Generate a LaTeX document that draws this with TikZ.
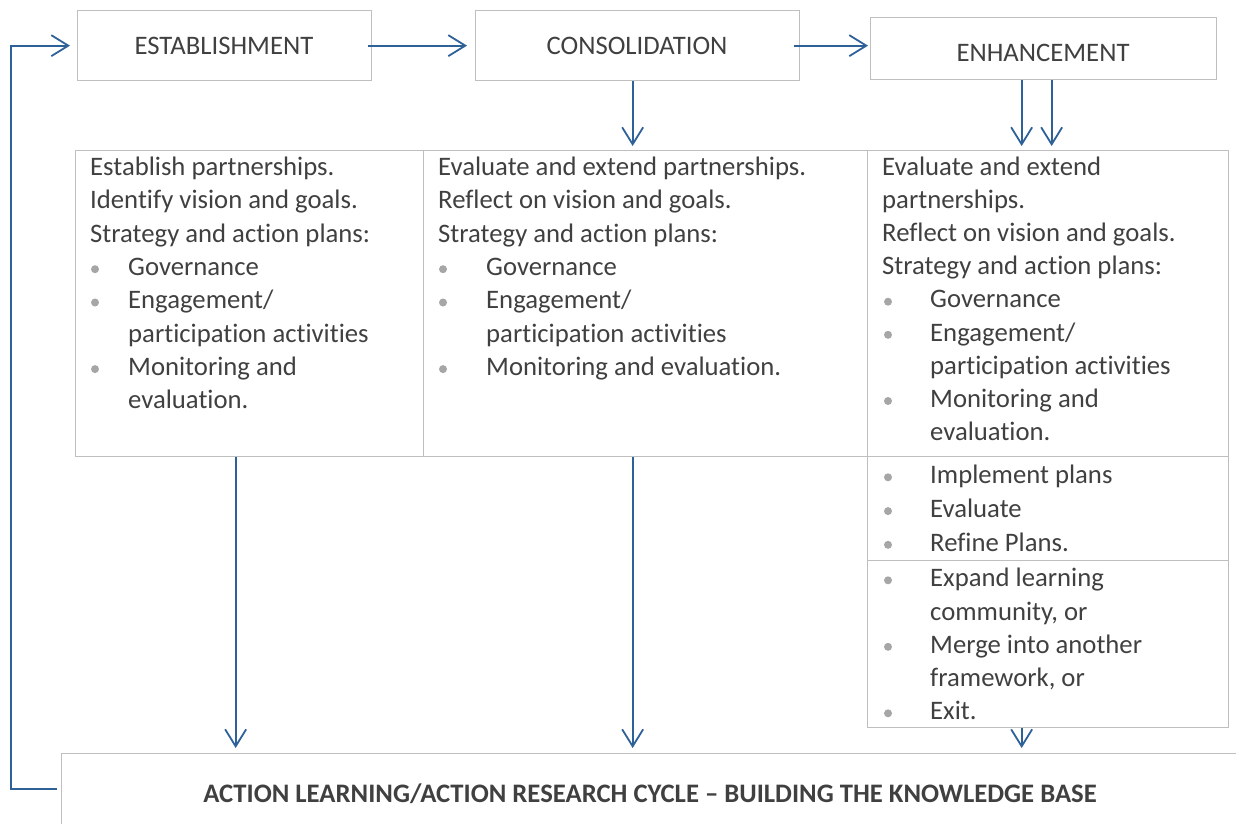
\documentclass[tikz,border=0pt]{standalone}
\usepackage{fontspec}
\setmainfont[Ligatures={NoCommon}]{Carlito}
\usetikzlibrary{arrows.meta}
\definecolor{txt}{HTML}{404040}
\definecolor{brd}{HTML}{BFBFBF}
\definecolor{arw}{HTML}{2F6199}
\definecolor{bul}{HTML}{A6A6A6}
\begin{document}
\begin{tikzpicture}[x=1pt,y=-1pt,
  box/.style={draw=brd, line width=1.3pt, inner sep=0pt, anchor=north west},
  arr/.style={draw=arw, line width=1.8pt, -{Straight Barb[length=17pt,width=21pt]}},
  tl/.style={anchor=base west, inner sep=0pt, text=txt, font=\fontsize{26.7}{33}\selectfont},
  toptxt/.style={anchor=base, inner sep=0pt, text=txt, font=\fontsize{26.7}{33}\selectfont},
  bt/.style={anchor=base, inner sep=0pt, text=txt, font=\bfseries\fontsize{26.7}{32}\selectfont},
  bu/.style={fill=bul}]
\useasboundingbox (0,0) rectangle (1236,823);
\clip (0,0) rectangle (1236,823);
% top boxes
\node[box, minimum width=294pt, minimum height=70pt] (est) at (77,10) {};
\node[box, minimum width=324pt, minimum height=70pt] (con) at (475,10) {};
\node[box, minimum width=346pt, minimum height=62pt] (enh) at (870,17) {};
\node[toptxt] (estt) at (224,54) {ESTABLISHMENT};
\node[toptxt] (cont) at (637,54) {CONSOLIDATION};
\node[toptxt] (enht) at (1043,61) {ENHANCEMENT};
% table cells
\node[box, minimum width=348pt, minimum height=306pt] (c1) at (75,150) {};
\node[box, minimum width=444pt, minimum height=306pt] (c2) at (423,150) {};
\node[box, minimum width=361pt, minimum height=306pt] (c3) at (867,150) {};
\node[box, minimum width=361pt, minimum height=104pt] (c4) at (867,456) {};
\node[box, minimum width=361pt, minimum height=167pt] (c5) at (867,560) {};
% bottom box
\node[box, minimum width=1250pt, minimum height=120pt] (bot) at (61,753) {};
\node[bt] (bottxt) at (650,802) {ACTION LEARNING/ACTION RESEARCH CYCLE – BUILDING THE KNOWLEDGE BASE};
% column 1
\node[tl] (a1) at (90,175.5) {Establish partnerships.};
\node[tl] (a2) at (90,208.8) {Identify vision and goals.};
\node[tl] (a3) at (90,242.1) {Strategy and action plans:};
\node[tl] (a4) at (128,275.4) {Governance};
\node[tl] (a5) at (128,308.7) {Engagement/};
\node[tl] (a6) at (128,342) {participation activities};
\node[tl] (a7) at (128,375.3) {Monitoring and};
\node[tl] (a8) at (128,408.6) {evaluation.};
\fill[bu] (95,269.2) circle (4);
\fill[bu] (95,302.5) circle (4);
\fill[bu] (95,369.1) circle (4);
% column 2
\node[tl] (b1) at (438,175.5) {Evaluate and extend partnerships.};
\node[tl] (b2) at (438,208.8) {Reflect on vision and goals.};
\node[tl] (b3) at (438,242.1) {Strategy and action plans:};
\node[tl] (b4) at (486,275.4) {Governance};
\node[tl] (b5) at (486,308.7) {Engagement/};
\node[tl] (b6) at (486,342) {participation activities};
\node[tl] (b7) at (486,375.3) {Monitoring and evaluation.};
\fill[bu] (443,269.2) circle (4);
\fill[bu] (443,302.5) circle (4);
\fill[bu] (443,369.1) circle (4);
% column 3
\node[tl] (d1) at (882,175.5) {Evaluate and extend};
\node[tl] (d2) at (882,208.6) {partnerships.};
\node[tl] (d3) at (882,241.7) {Reflect on vision and goals.};
\node[tl] (d4) at (882,274.8) {Strategy and action plans:};
\node[tl] (d5) at (930,307.9) {Governance};
\node[tl] (d6) at (930,341) {Engagement/};
\node[tl] (d7) at (930,374.1) {participation activities};
\node[tl] (d8) at (930,407.2) {Monitoring and};
\node[tl] (d9) at (930,440.3) {evaluation.};
\fill[bu] (888,301.7) circle (4);
\fill[bu] (888,334.8) circle (4);
\fill[bu] (888,401) circle (4);
% row 2
\node[tl] (e1) at (930,483.5) {Implement plans};
\node[tl] (e2) at (930,517.3) {Evaluate};
\node[tl] (e3) at (930,551) {Refine Plans.};
\fill[bu] (888,477.3) circle (4);
\fill[bu] (888,511.1) circle (4);
\fill[bu] (888,544.8) circle (4);
% row 3
\node[tl] (f1) at (930,586.5) {Expand learning};
\node[tl] (f2) at (930,620) {community, or};
\node[tl] (f3) at (930,653) {Merge into another};
\node[tl] (f4) at (930,686.3) {framework, or};
\node[tl] (f5) at (930,719.5) {Exit.};
\fill[bu] (888,580.3) circle (4);
\fill[bu] (888,646.8) circle (4);
\fill[bu] (888,713.3) circle (4);
% arrows
\draw[arr] ([xshift=-4pt]est.east) -- ([xshift=-8pt]con.west);
\draw[arr] ([xshift=-6pt]con.east) -- ([xshift=-2pt]enh.west |- con.east);
\draw[arr, shorten >=4pt] ([xshift=-5pt]con.south) -- ([xshift=-5pt]con.south |- c2.north);
\draw[arr, shorten >=4pt] ([xshift=-22pt]enh.south) -- ([xshift=-22pt]enh.south |- c3.north);
\draw[arr, shorten >=4pt] ([xshift=8pt]enh.south) -- ([xshift=8pt]enh.south |- c3.north);
\draw[arr, shorten >=5pt] ([xshift=-14pt]c1.south) -- ([xshift=-14pt]c1.south |- bot.north);
\draw[arr, shorten >=5pt] ([xshift=-13pt]c2.south) -- ([xshift=-13pt]c2.south |- bot.north);
\draw[arr, shorten >=5pt] ([xshift=-26.5pt]c5.south) -- ([xshift=-26.5pt]c5.south |- bot.north);
\coordinate (fb) at (57,789);
\draw[arr] (fb) -- ++(-46,0) |- ([xshift=-7pt]est.west);
\end{tikzpicture}
\end{document}
